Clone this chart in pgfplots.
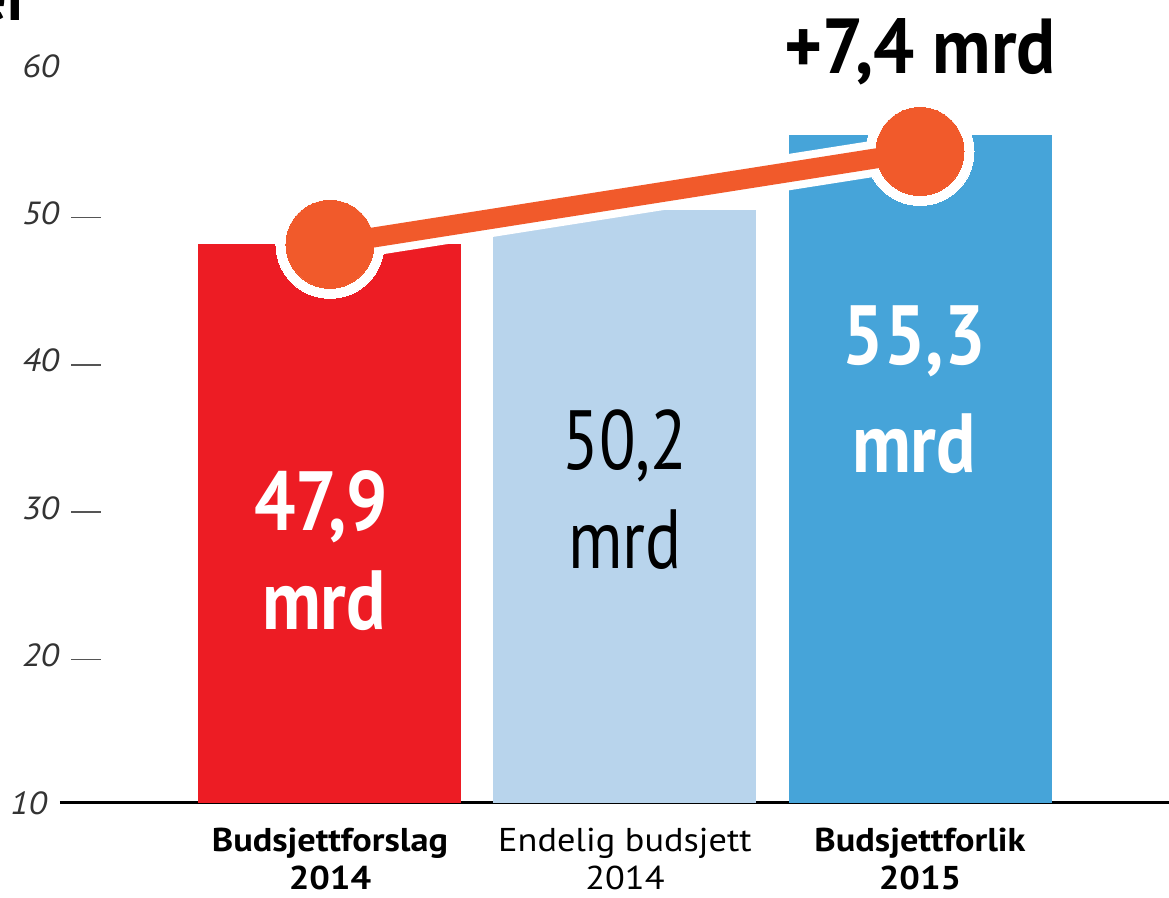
\documentclass[border=0pt]{standalone}
\usepackage{pgfplots}
\pgfplotsset{compat=1.18}
\usepackage{fontspec}
\setmainfont{PT Sans}
\newfontfamily\lab[FakeStretch=1.1]{PT Sans}
\newfontfamily\cond[FakeStretch=0.8]{PT Sans}
\newfontfamily\condb[FakeStretch=0.87]{PT Sans}
\newfontfamily\condt[FakeStretch=0.93]{PT Sans}
\definecolor{cred}{HTML}{ED1C24}
\definecolor{clight}{HTML}{B8D4EC}
\definecolor{cblue}{HTML}{46A4D9}
\definecolor{corange}{HTML}{F15A2B}
\definecolor{tickgray}{HTML}{333333}
\definecolor{dashgray}{HTML}{555555}
\newcommand{\tdash}{\hspace{6pt}\raisebox{3.2pt}{\textcolor{dashgray}{\rule{15pt}{0.8pt}}}}
\begin{document}
\begin{tikzpicture}
\path[use as bounding box] (0,0) rectangle (584.5pt,449pt);
\begin{axis}[
  at={(30pt,47.5pt)}, anchor=south west, scale only axis,
  width=554.5pt, height=368.5pt,
  xmin=-0.915, xmax=2.844, ymin=10, ymax=60,
  clip mode=individual,
  axis x line=bottom, axis y line=left,
  x axis line style={line width=1.5pt, -},
  y axis line style={draw=none},
  major tick length=0pt,
  xtick={0,1,2},
  xticklabels={\textbf{Budsjettforslag}\\\textbf{2014}, Endelig budsjett\\2014, \textbf{Budsjettforlik}\\\textbf{2015}},
  xticklabel style={align=center, font=\lab\fontsize{16.5}{19}\selectfont, text=black, yshift=-9pt},
  ytick={10,20,30,40,50,60},
  yticklabels={\hspace{-6pt}10, 20\tdash, 30\tdash, 40\tdash, 50\tdash, 60},
  yticklabel style={anchor=west, xshift=-19pt, inner sep=0pt, font=\lab\itshape\fontsize{16}{16}\selectfont, text=tickgray},
]
\addplot[ybar, bar width=131.5pt, bar shift=0pt, fill=cred, draw=none] coordinates {(0,47.9)};
\addplot[ybar, bar width=131.5pt, bar shift=0pt, fill=clight, draw=none] coordinates {(1,50.2)};
\addplot[ybar, bar width=131.5pt, bar shift=0pt, fill=cblue, draw=none] coordinates {(2,55.3)};
\addplot[white, line width=18pt, mark=*, mark size=27pt, mark options={fill=white, draw=white, line width=0pt}] coordinates {(0,47.9) (2,54.2)};
\addplot[corange, line width=10pt, mark=*, mark size=22pt, mark options={fill=corange, draw=corange, line width=0pt}] coordinates {(0,47.9) (2,54.2)};
\node[text=white, font=\condb\bfseries\fontsize{42}{42}\selectfont] at (axis cs:-0.03,30.1) {47,9};
\node[text=white, font=\condb\bfseries\fontsize{42}{42}\selectfont] at (axis cs:-0.02,23.7) {mrd};
\node[text=black, font=\cond\fontsize{42}{42}\selectfont] at (axis cs:1,34.2) {50,2};
\node[text=black, font=\cond\fontsize{42}{42}\selectfont] at (axis cs:1,27.9) {mrd};
\node[text=white, font=\condb\bfseries\fontsize{42}{42}\selectfont] at (axis cs:1.98,41.3) {55,3};
\node[text=white, font=\condb\bfseries\fontsize{42}{42}\selectfont] at (axis cs:1.98,34.4) {mrd};
\node[text=black, font=\condt\bfseries\fontsize{39}{39}\selectfont] at (axis cs:2,60.95) {+7,4 mrd};
\end{axis}
\node[anchor=south east, inner sep=0pt, font=\bfseries\fontsize{32}{32}\selectfont] at (15pt,438pt) {er};
\end{tikzpicture}
\end{document}
